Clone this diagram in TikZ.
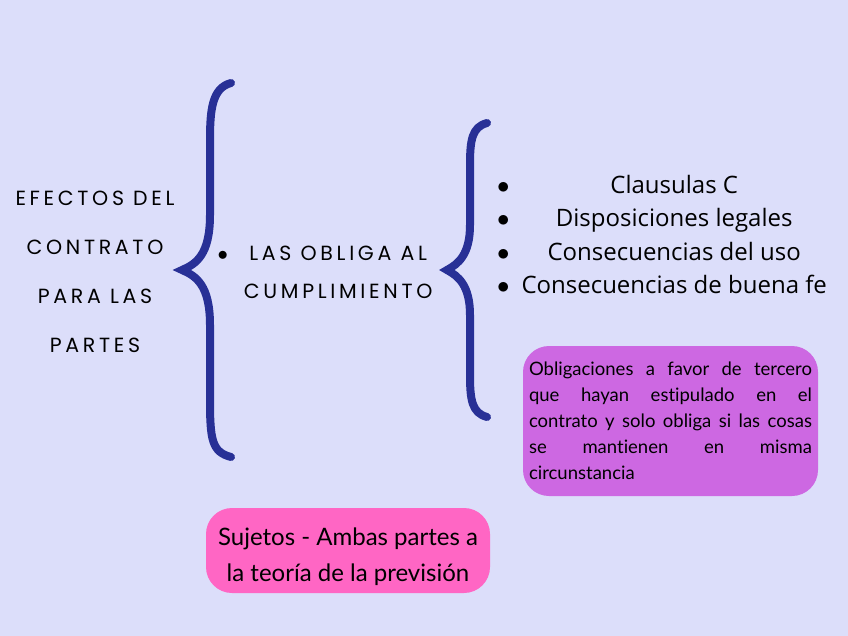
\documentclass[tikz,border=0pt]{standalone}
\usepackage{fontspec}
\setmainfont{Open Sans}
\newfontfamily\latofont[Ligatures=NoCommon]{Lato}
\newfontfamily\capsfont[LetterSpace=18]{Poppins}
\usetikzlibrary{positioning}
\definecolor{bgcol}{RGB}{220,222,250}
\definecolor{bracecol}{RGB}{40,48,150}
\definecolor{purplebox}{RGB}{205,104,226}
\definecolor{pinkbox}{RGB}{255,102,196}
\newcommand{\listdot}{$\bullet$}

\begin{document}
\hyphenpenalty=10000
\exhyphenpenalty=10000
\begin{tikzpicture}[
  x=1pt, y=-1pt,
  capsnode/.style={inner sep=0pt,align=center,
   font=\capsfont\fontsize{20.5}{49}\selectfont},
  brace/.style={draw=bracecol,line width=8pt,line cap=round},
  roundbox/.style={rounded corners=26pt,inner sep=0pt},
  boxtext/.style={inner sep=0pt,font=\latofont}
  ]
  \fill[bgcol] (0,0) rectangle (848,636);
  \useasboundingbox (0,0) rectangle (848,636);

  \node[capsnode] (efectos) at (95,272)
   {EFECTOS DEL\\CONTRATO\\PARA LAS\\PARTES};

  \draw[brace] (231,83) .. controls (212,88) and (210,110) .. (210,140)
   -- (210,215) .. controls (210,255) and (196,264) .. (182,270)
   .. controls (196,276) and (210,285) .. (210,325)
   -- (210,400) .. controls (210,440) and (212,452) .. (231,457);

  \node[inner sep=0pt,font=\capsfont\fontsize{20.5}{38}\selectfont]
   (obliga) at (325,272)
   {\begin{tabular}[t]{@{}l@{\hspace{16pt}}c@{}}
    \listdot & LAS OBLIGA AL\\
    & CUMPLIMIENTO
   \end{tabular}};

  \draw[brace] (487,123) .. controls (472,127) and (470,140) .. (470,165)
   -- (470,225) .. controls (470,255) and (458,264) .. (447,270)
   .. controls (458,276) and (470,285) .. (470,315)
   -- (470,375) .. controls (470,400) and (472,413) .. (487,417);

  \node[inner sep=0pt,font=\fontsize{24}{33.5}\selectfont] (efectoslist) at (662,237)
   {\begin{tabular}{@{}l@{\hspace{12pt}}c@{}}
    \listdot & Clausulas C\\
    \listdot & Disposiciones legales\\
    \listdot & Consecuencias del uso\\
    \listdot & Consecuencias de buena fe
   \end{tabular}};

  \node[roundbox,fill=purplebox,minimum width=295pt,minimum height=150pt]
   (tercero) at (670.5,421) {};
  \node[boxtext,text width=283pt,align=justify,
   font=\latofont\fontsize{18.5}{26}\selectfont]
   (tercerotext) at (tercero.center)
   {Obligaciones a favor de tercero\linebreak que hayan estipulado en el\linebreak
    contrato y solo obliga si las cosas\linebreak se mantienen en misma\linebreak
    circunstancia};

  \node[roundbox,fill=pinkbox,minimum width=284pt,minimum height=85pt]
   (sujetos) at (348,550.5) {};
  \node[boxtext,align=center,font=\latofont\fontsize{24}{36}\selectfont]
   (sujetostext) at ([yshift=-6pt]sujetos.center)
   {Sujetos - Ambas partes a\\la teoría de la previsión};
 \end{tikzpicture}
\end{document}
